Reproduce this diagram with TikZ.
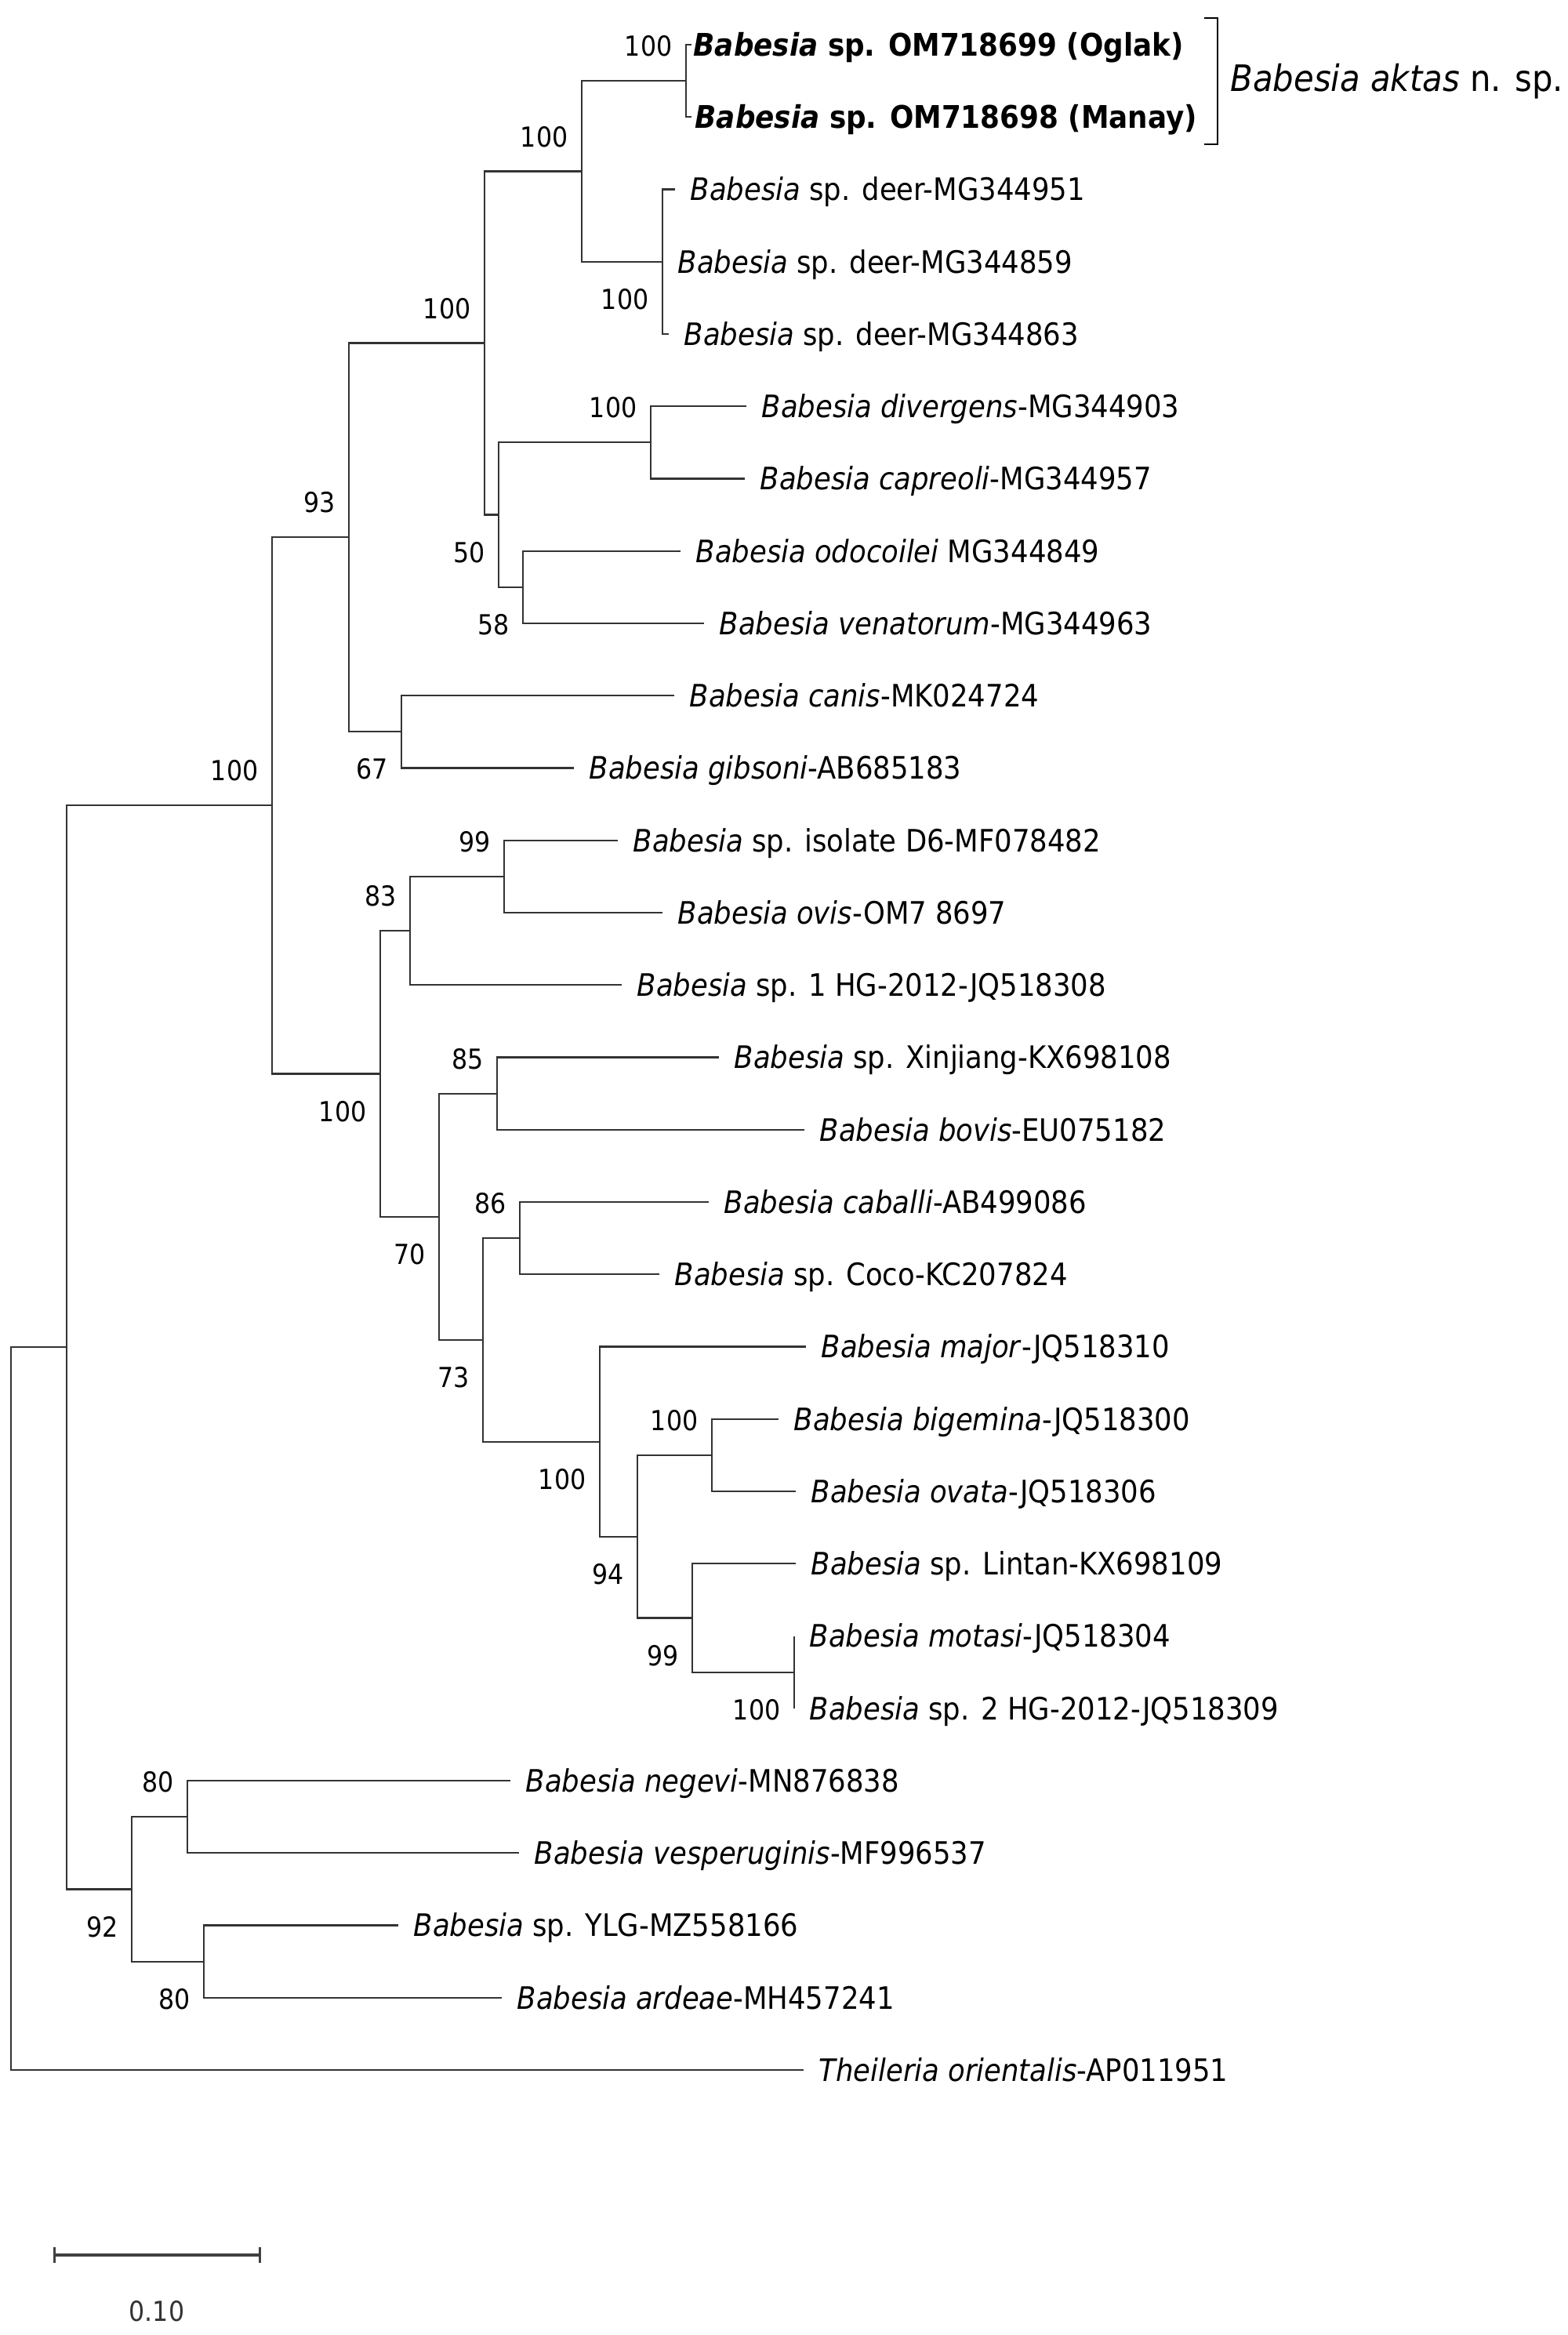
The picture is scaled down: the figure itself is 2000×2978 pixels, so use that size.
\documentclass[tikz,border=0pt]{standalone}
\usepackage{fontspec}
\setmainfont{DejaVu Sans Condensed}
\usetikzlibrary{positioning,arrows.meta}
\tikzset{
  branch/.style={line width=0.62pt, draw=black!80},
  taxon/.style={inner sep=0pt, font=\fontsize{11.2}{13}\selectfont, text height=10.5pt, text depth=2.3pt},
  boot/.style={inner sep=0pt, anchor=east, xshift=-0.17cm, font=\fontsize{10}{12}\selectfont},
  bootup/.style={boot, yshift=0.44cm},
  bootdown/.style={boot, yshift=-0.48cm},
}
\newcommand{\newsp}[1]{\fontsize{11.3}{13}\selectfont\textbf{\textit{Babesia} sp. #1}}
\begin{document}
\begin{tikzpicture}[x=0.01cm, y=-0.01cm]
    \useasboundingbox (0,0) rectangle (2000,2978);
    \foreach \x/\g/\lab [count=\i from 0] in {
        882/0.02/{\newsp{OM718699 (Oglak)}},
        882/0.04/{\newsp{OM718698 (Manay)}},
        861/0.19/{\textit{Babesia} sp. deer-MG344951},
        845/0.19/{\textit{Babesia} sp. deer-MG344859},
        853/0.19/{\textit{Babesia} sp. deer-MG344863},
        952/0.19/{\textit{Babesia divergens}-MG344903},
        950/0.19/{\textit{Babesia capreoli}-MG344957},
        868/0.19/{\textit{Babesia odocoilei} MG344849},
        898/0.19/{\textit{Babesia venatorum}-MG344963},
        860/0.19/{\textit{Babesia canis}-MK024724},
        732/0.19/{\textit{Babesia gibsoni}-AB685183},
        788/0.19/{\textit{Babesia} sp. isolate D6-MF078482},
        845/0.19/{\textit{Babesia ovis}-OM7 8697},
        793/0.19/{\textit{Babesia} sp. 1 HG-2012-JQ518308},
        917/0.19/{\textit{Babesia} sp. Xinjiang-KX698108},
        1026/0.19/{\textit{Babesia bovis}-EU075182},
        904/0.19/{\textit{Babesia caballi}-AB499086},
        841/0.19/{\textit{Babesia} sp. Coco-KC207824},
        1028/0.19/{\textit{Babesia major}-JQ518310},
        993/0.19/{\textit{Babesia bigemina}-JQ518300},
        1015/0.19/{\textit{Babesia ovata}-JQ518306},
        1015/0.19/{\textit{Babesia} sp. Lintan-KX698109},
        1013/0.19/{\textit{Babesia motasi}-JQ518304},
        1013/0.19/{\textit{Babesia} sp. 2 HG-2012-JQ518309},
        651/0.19/{\textit{Babesia negevi}-MN876838},
        662/0.19/{\textit{Babesia vesperuginis}-MF996537},
        508/0.19/{\textit{Babesia} sp. YLG-MZ558166},
        640/0.19/{\textit{Babesia ardeae}-MH457241},
        1025/0.19/{\textit{Theileria orientalis}-AP011951}}
        {\coordinate (t\i) at (\x, {57+92.25*\i});
         \node[taxon, right=\g cm of t\i] (name\i) {\lab};}
    \coordinate (root) at (14,2179);
    \coordinate (ingroup) at (85,1718);
    \coordinate (upper) at (347,1027);
    \coordinate (cladeA) at (445,685);
    \coordinate (cladeB) at (618,437.5);
    \coordinate (cervid) at (742,218.5);
    \coordinate (aktas) at (875,103);
    \coordinate (deer) at (845,334);
    \coordinate (cladeC) at (636,656.5);
    \coordinate (diver) at (830,564);
    \coordinate (odo) at (667,749);
    \coordinate (canis) at (512,933);
    \coordinate (lower) at (485,1369.5);
    \coordinate (ovis) at (523,1187);
    \coordinate (dsix) at (643,1118);
    \coordinate (cladeD) at (560,1552);
    \coordinate (bovis) at (634,1395);
    \coordinate (cladeE) at (616,1709);
    \coordinate (caballi) at (663,1579);
    \coordinate (major) at (765,1839);
    \coordinate (cladeF) at (813,1960);
    \coordinate (bigem) at (908,1856);
    \coordinate (lintan) at (883,2063.5);
    \coordinate (motasi) at (1013,2133);
    \coordinate (outgr) at (168,2409.5);
    \coordinate (negevi) at (239,2317);
    \coordinate (ardeae) at (260,2502);
    \foreach \p/\c in {root/ingroup, root/t28, ingroup/upper, ingroup/outgr,
        upper/cladeA, upper/lower, cladeA/cladeB, cladeA/canis,
        cladeB/cervid, cladeB/cladeC, cervid/aktas, cervid/deer,
        aktas/t0, aktas/t1, deer/t2, deer/t3, deer/t4,
        cladeC/diver, cladeC/odo, diver/t5, diver/t6, odo/t7, odo/t8,
        canis/t9, canis/t10, lower/ovis, lower/cladeD,
        ovis/dsix, ovis/t13, dsix/t11, dsix/t12,
        cladeD/bovis, cladeD/cladeE, bovis/t14, bovis/t15,
        cladeE/caballi, cladeE/major, caballi/t16, caballi/t17,
        major/t18, major/cladeF, cladeF/bigem, cladeF/lintan,
        bigem/t19, bigem/t20, lintan/t21, lintan/motasi, motasi/t22, motasi/t23,
        outgr/negevi, outgr/ardeae, negevi/t24, negevi/t25, ardeae/t26, ardeae/t27}
        {\draw[branch] (\p) |- (\c);}
    \foreach \n/\v in {aktas/100, cervid/100, cladeB/100, diver/100, cladeA/93, upper/100,
        ovis/83, dsix/99, bovis/85, caballi/86, bigem/100, negevi/80}
        {\node[bootup] (bs-\n) at (\n) {\v};}
    \foreach \n/\v in {deer/100, cladeC/50, odo/58, canis/67, lower/100, cladeD/70,
        cladeE/73, major/100, cladeF/94, lintan/99, motasi/100, outgr/92, ardeae/80}
        {\node[bootdown] (bs-\n) at (\n) {\v};}
    \coordinate (brtop) at (1536,23);
    \coordinate (brbot) at (1536,184);
    \coordinate (brmid) at (1553,100);
    \draw[line width=0.7pt] (brtop) -- ++(17,0) |- (brbot);
    \node[inner sep=0pt, font=\fontsize{13.2}{15}\selectfont, text height=12.3pt, text depth=2.7pt,
        right=0.16cm of brmid] (species) {\textit{Babesia aktas} n. sp.};
    \coordinate (sbl) at (68,2876);
    \coordinate (sbr) at (333,2876);
    \draw[line width=0.9pt, draw=black!75, {Bar[width=0.2cm]}-{Bar[width=0.2cm]}] (sbl) -- (sbr);
    \node[font=\fontsize{10}{12}\selectfont, text=black!80] (sblabel) at (200,2948) {0.10};
\end{tikzpicture}
\end{document}
